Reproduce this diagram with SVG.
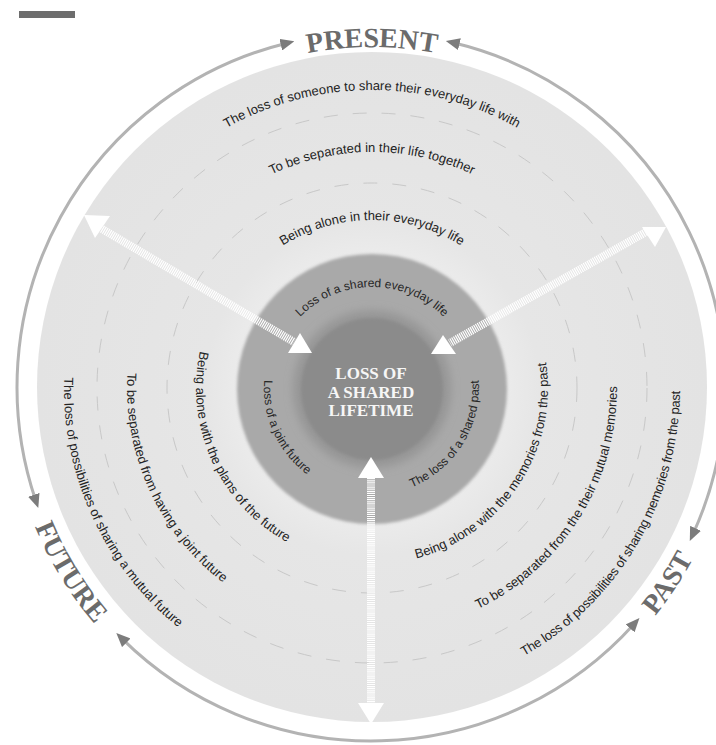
<svg xmlns="http://www.w3.org/2000/svg" xmlns:xlink="http://www.w3.org/1999/xlink" width="716" height="745" viewBox="0 0 716 745">
  <style>
    .t13 { font-family: "Liberation Sans", Arial, sans-serif; font-size: 13px; fill: #232323; }
    .t12 { font-family: "Liberation Sans", Arial, sans-serif; font-size: 12px; fill: #262626; }
    .label { font-family: "Liberation Serif", "Times New Roman", serif; font-weight: bold; font-size: 28px; fill: #6b6b6b; }
    .title { font-family: "Liberation Serif", "Times New Roman", serif; font-weight: bold; font-size: 17px; fill: #f6f6f6; text-anchor: middle; }
    .cycle { fill: none; stroke: #b3b3b3; stroke-width: 3; marker-start: url(#tip); marker-end: url(#tip); }
    .hatch { fill: none; stroke: #ffffff; stroke-width: 8; stroke-dasharray: 1.2 0.9; }
    .head { fill: #ffffff; }
    .dash { fill: none; stroke: #c8c8c8; stroke-width: 1; stroke-dasharray: 14 15; }
  </style>
  <defs>
    <marker id="tip" viewBox="0 0 14 12" refX="6" refY="6" markerWidth="14" markerHeight="12" markerUnits="userSpaceOnUse" orient="auto-start-reverse">
      <path d="M0,0 L14,6 L0,12 z" fill="#7c7c7c"/>
    </marker>
    <radialGradient id="disc" cx="372" cy="388" r="335" gradientUnits="userSpaceOnUse">
      <stop offset="0.4" stop-color="#ebebeb"/>
      <stop offset="0.5" stop-color="#e6e6e6"/>
      <stop offset="1" stop-color="#e3e3e3"/>
    </radialGradient>
    <filter id="soft" x="-20%" y="-20%" width="140%" height="140%">
      <feGaussianBlur stdDeviation="1.6"/>
    </filter>
    <filter id="halo" x="-30%" y="-30%" width="160%" height="160%">
      <feGaussianBlur stdDeviation="4"/>
    </filter>

    <!-- text paths: upper band runs clockwise, lower bands run counter-clockwise -->
    <path id="p-top-298" d="M74,388 A298,298 0 0 1 670,388"/>
    <path id="p-top-236" d="M136,388 A236,236 0 0 1 608,388"/>
    <path id="p-top-168" d="M204,388 A168,168 0 0 1 540,388"/>
    <path id="p-top-101" d="M271,388 A101,101 0 0 1 473,388"/>
    <path id="p-present" d="M31,388 A341,341 0 0 1 713,388"/>

    <path id="p-left-308" d="M197.5,134.2 A308,308 0 0 0 449.1,686.2"/>
    <path id="p-left-245" d="M233.2,186.1 A245,245 0 0 0 433.3,625.2"/>
    <path id="p-left-176" d="M272.3,243 A176,176 0 0 0 416.1,558.4"/>
    <path id="p-left-108" d="M310.8,299 A108,108 0 0 0 399,492.6"/>
    <path id="p-future" d="M129.3,114.8 A364,364 0 0 0 505,725.4"/>

    <path id="p-right-308" d="M215.7,653.4 A308,308 0 0 0 528.3,122.6"/>
    <path id="p-right-245" d="M242.2,595.8 A245,245 0 0 0 501.8,180.2"/>
    <path id="p-right-176" d="M274.9,534.8 A176,176 0 0 0 469.1,241.2"/>
    <path id="p-right-108" d="M314.8,479.6 A108,108 0 0 0 429.2,296.4"/>
    <path id="p-past" d="M226.1,722 A365,365 0 0 0 621.8,121.8"/>
  </defs>

  <rect width="716" height="745" fill="#ffffff"/>
  <rect x="19" y="11" width="56" height="7" fill="#6d6d6d"/>

  <!-- discs -->
  <g id="outer-field">
    <circle cx="372" cy="387" r="335" fill="url(#disc)"/>
    <circle class="dash" cx="372" cy="388" r="275"/>
    <circle class="dash" cx="372" cy="388" r="205"/>
  </g>
  <g id="middle-ring">
    <circle cx="372" cy="389" r="135" fill="#a9a9a9" filter="url(#soft)"/>
    <circle cx="372" cy="389" r="79" fill="#969696" filter="url(#halo)"/>
  </g>

  <!-- centre -->
  <g id="core">
    <circle cx="372" cy="389" r="71" fill="#8b8b8b" filter="url(#soft)"/>
    <text class="title" x="371" y="379">LOSS OF</text>
    <text class="title" x="371" y="397.5">A SHARED</text>
    <text class="title" x="371" y="415.5">LIFETIME</text>
  </g>

  <!-- present -->
  <g id="present">
    <text class="label" text-anchor="middle"><textPath xlink:href="#p-present" href="#p-present" startOffset="50%">PRESENT</textPath></text>
    <text class="t12" text-anchor="middle"><textPath xlink:href="#p-top-101" href="#p-top-101" startOffset="50%">Loss of a shared everyday life</textPath></text>
    <text class="t13" text-anchor="middle"><textPath xlink:href="#p-top-168" href="#p-top-168" startOffset="50%">Being alone in their everyday life</textPath></text>
    <text class="t13" text-anchor="middle"><textPath xlink:href="#p-top-236" href="#p-top-236" startOffset="50%">To be separated in their life together</textPath></text>
    <text class="t13" text-anchor="middle"><textPath xlink:href="#p-top-298" href="#p-top-298" startOffset="50%">The loss of someone to share their everyday life with</textPath></text>
  </g>

  <!-- future -->
  <g id="future">
    <text class="label" text-anchor="middle"><textPath xlink:href="#p-future" href="#p-future" startOffset="50%">FUTURE</textPath></text>
    <text class="t12" text-anchor="middle"><textPath xlink:href="#p-left-108" href="#p-left-108" startOffset="50%">Loss of a joint future</textPath></text>
    <text class="t13" text-anchor="middle"><textPath xlink:href="#p-left-176" href="#p-left-176" startOffset="50%">Being alone with the plans of the future</textPath></text>
    <text class="t13" text-anchor="middle"><textPath xlink:href="#p-left-245" href="#p-left-245" startOffset="50%">To be separated from having a joint future</textPath></text>
    <text class="t13" text-anchor="middle"><textPath xlink:href="#p-left-308" href="#p-left-308" startOffset="50%">The loss of possibilities of sharing a mutual future</textPath></text>
  </g>

  <!-- past -->
  <g id="past">
    <text class="label" text-anchor="middle"><textPath xlink:href="#p-past" href="#p-past" startOffset="50%">PAST</textPath></text>
    <text class="t12" text-anchor="middle"><textPath xlink:href="#p-right-108" href="#p-right-108" startOffset="50%">The loss of a shared past</textPath></text>
    <text class="t13" text-anchor="middle"><textPath xlink:href="#p-right-176" href="#p-right-176" startOffset="50%">Being alone with the memories from the past</textPath></text>
    <text class="t13" text-anchor="middle"><textPath xlink:href="#p-right-245" href="#p-right-245" startOffset="50%">To be separated from the their mutual memories</textPath></text>
    <text class="t13" text-anchor="middle"><textPath xlink:href="#p-right-308" href="#p-right-308" startOffset="50%" textLength="322" lengthAdjust="spacing">The loss of possibilities of sharing memories from the past</textPath></text>
  </g>

  <!-- connectors -->
  <g id="connectors">
    <path class="cycle" d="M35.7,500.5 A354,354 0 0 1 286.6,43.2"/>
    <path class="cycle" d="M453.6,42.8 A354,354 0 0 1 693.1,533.8"/>
    <path class="cycle" d="M634.1,623.9 A354,354 0 0 1 122,638.6"/>

    <line class="hatch" x1="102" y1="229" x2="294" y2="342"/>
    <line class="hatch" x1="646" y1="232" x2="450" y2="343"/>
    <line class="hatch" x1="371" y1="476" x2="371" y2="705"/>

    <polygon class="head" points="84,215 110,216 95,238"/>
    <polygon class="head" points="642,227 666,227 655,247"/>
    <polygon class="head" points="358,703 384,703 371,724"/>
    <polygon class="head" points="300,333 288,353 312,353"/>
    <polygon class="head" points="443,335 431,354 456,354"/>
    <polygon class="head" points="371,457 358,478 384,478"/>
  </g>
</svg>
